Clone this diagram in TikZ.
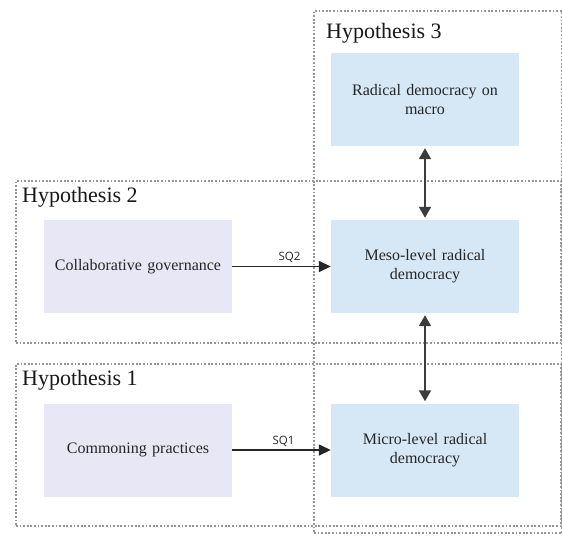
\documentclass[tikz,border=0pt]{standalone}
\usepackage{fontspec}
\setmainfont{Liberation Serif}
\setsansfont{Open Sans}
\usetikzlibrary{arrows.meta,positioning}
\definecolor{boxblue}{RGB}{214,231,245}
\definecolor{boxlilac}{RGB}{231,231,246}
\definecolor{framegray}{RGB}{150,150,150}
\definecolor{arrowgray}{RGB}{60,60,60}
\begin{document}
\begin{tikzpicture}[x=1pt, y=-1pt,
  frame/.style={draw=framegray, dash pattern=on 1.8pt off 1.8pt, line width=1.8pt, rectangle, inner sep=0pt, anchor=north west},
  hyp/.style={anchor=north west, inner sep=0pt, font=\fontsize{22}{25}\selectfont, text=black!90},
  box/.style={rectangle, minimum width=188pt, minimum height=93pt, align=center, inner sep=2pt, text width=175pt, font=\fontsize{16}{19}\selectfont, text=black!85},
  arr/.style={-{Triangle[length=12pt, width=11pt]}, line width=1.5pt, draw=black!85},
  dbl/.style={{Triangle[length=11pt, width=12pt]}-{Triangle[length=11pt, width=12pt]}, line width=1.8pt, draw=arrowgray},
  sq/.style={font=\sffamily\fontsize{11.5}{13}\selectfont, inner sep=1pt, anchor=south, text=black!85}
]
\useasboundingbox[fill=white] (0,0) rectangle (562,536);

% dotted frames for the three hypotheses
\node[frame, minimum width=248pt, minimum height=522pt] (f3) at (313,10) {};
\node[frame, minimum width=545pt, minimum height=162pt] (f2) at (15,180) {};
\node[frame, minimum width=545pt, minimum height=162pt] (f1) at (15,363) {};

\node[hyp] (h3) at (326,23) {Hypothesis 3};
\node[hyp] (h2) at (22,187) {Hypothesis 2};
\node[hyp] (h1) at (22,370) {Hypothesis 1};

% boxes
\node[box, fill=boxblue] (macro) at (425,99.5) {Radical democracy on\\macro};
\node[box, fill=boxblue] (meso) at (425,266.5) {Meso-level radical\\democracy};
\node[box, fill=boxblue] (micro) at (425,450) {Micro-level radical\\democracy};
\node[box, fill=boxlilac] (collab) at (138,266.5) {Collaborative governance};
\node[box, fill=boxlilac] (common) at (138,450) {Commoning practices};

% connectors
\draw[arr] (collab) -- node[sq, above=2pt, xshift=8pt] (sq2) {SQ2} (meso);
\draw[arr] (common) -- node[sq, above=2pt, xshift=2pt] (sq1) {SQ1} (micro);
\draw[dbl] ([yshift=-2pt]macro.south) -- ([yshift=2pt]meso.north);
\draw[dbl] ([yshift=-2pt]meso.south) -- ([yshift=2pt]micro.north);
\end{tikzpicture}
\end{document}
